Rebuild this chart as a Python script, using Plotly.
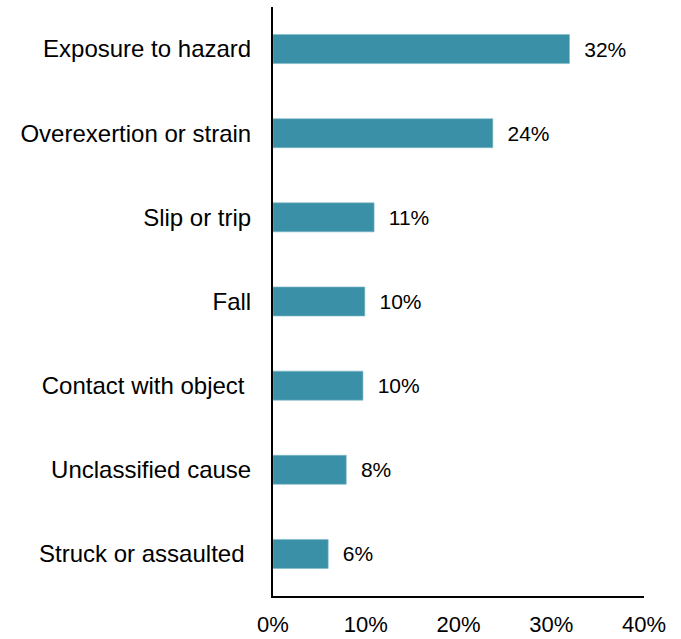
import plotly.graph_objects as go

categories = ["Exposure to hazard", "Overexertion or strain", "Slip or trip", "Fall",
              "Contact with object ", "Unclassified cause", "Struck or assaulted "]
values = [31.97, 23.7, 10.9, 9.9, 9.7, 7.9, 5.95]
value_labels = ["32%", "24%", "11%", "10%", "10%", "8%", "6%"]
x_ticks = [0, 10, 20, 30, 40]
x_tick_labels = ["0%", "10%", "20%", "30%", "40%"]

bar_color = "#3a91a7"
font_family = "Liberation Sans, Arial, sans-serif"

tick_text = [c.rstrip() + ("\u00a0" if c.endswith(" ") else "") for c in categories]

fig = go.Figure(go.Bar(
    y=categories,
    x=values,
    orientation="h",
    marker=dict(color=bar_color, line=dict(color="#7fb8c8", width=0.6)),
    text=["\u00a0\u00a0" + t for t in value_labels],
    textposition="outside",
    textfont=dict(size=21, color="#000000", family=font_family),
    cliponaxis=False,
    width=0.345,
    hoverinfo="skip",
))

fig.update_layout(
    width=681, height=639,
    margin=dict(l=273, r=37, t=7, b=43, autoexpand=False),
    paper_bgcolor="white", plot_bgcolor="white",
    font=dict(family=font_family, size=22, color="#000000"),
    showlegend=False,
)
fig.update_xaxes(
    range=[0, 40], tickvals=x_ticks, ticktext=x_tick_labels,
    showgrid=False, zeroline=False, showline=True, linecolor="#000000", linewidth=2,
    ticks="", ticklabelstandoff=8, tickfont=dict(size=22), automargin=False,
)
fig.update_yaxes(
    categoryorder="array", categoryarray=categories[::-1],
    tickvals=categories, ticktext=tick_text,
    range=[-0.5, 6.5],
    showgrid=False, zeroline=False, showline=True, linecolor="#000000", linewidth=2,
    ticks="", ticklabelstandoff=15, tickfont=dict(size=24), automargin=False,
)

fig.write_html("out.html", config={"displayModeBar": False},
               post_script="document.body.style.margin='0';document.body.style.overflow='hidden';")
